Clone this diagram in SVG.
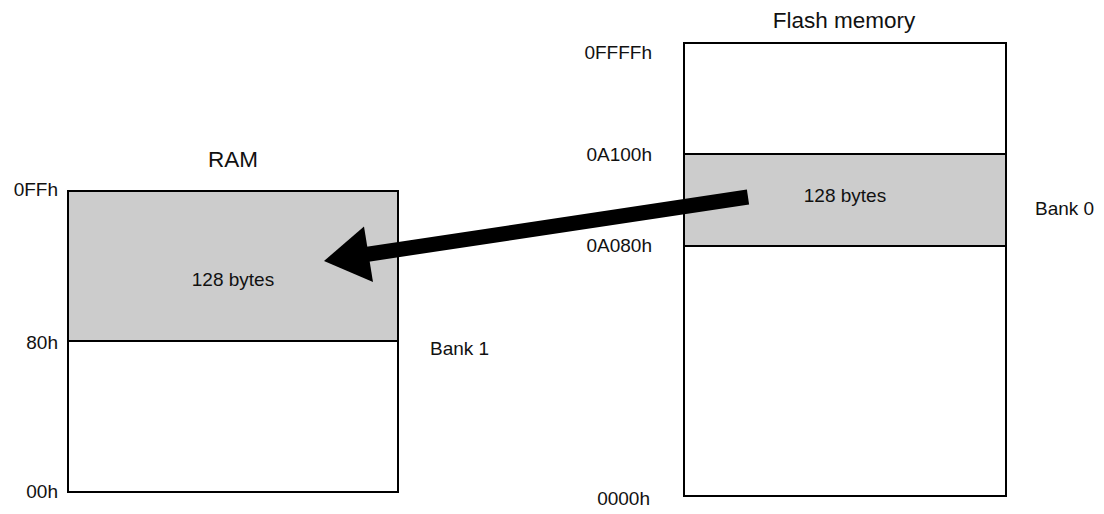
<svg xmlns="http://www.w3.org/2000/svg" width="1104" height="514" viewBox="0 0 1104 514">
<style>
text{font-family:"Liberation Sans",Arial,sans-serif;fill:#111}
.t{font-size:22.5px}
.l{font-size:19px}
.box{fill:#fff;stroke:#000;stroke-width:2}
.sh{fill:#cccccc;stroke:#000;stroke-width:2}
</style>
<rect width="1104" height="514" fill="#fff"/>
<g id="ram">
<rect class="box" x="68" y="191" width="330" height="301"/>
<rect class="sh" x="68" y="191" width="330" height="150"/>
<text class="t" x="233" y="167" text-anchor="middle">RAM</text>
<text class="l" x="233" y="286" text-anchor="middle">128 bytes</text>
<text class="l" x="58" y="196" text-anchor="end">0FFh</text>
<text class="l" x="58" y="349" text-anchor="end">80h</text>
<text class="l" x="58" y="498" text-anchor="end">00h</text>
<text class="l" x="430" y="355">Bank 1</text>
</g>
<g id="flash">
<rect class="box" x="684" y="43" width="322" height="453"/>
<rect class="sh" x="684" y="154" width="322" height="92"/>
<text class="t" x="844" y="28" text-anchor="middle">Flash memory</text>
<text class="l" x="845" y="202" text-anchor="middle">128 bytes</text>
<text class="l" x="652" y="59" text-anchor="end">0FFFFh</text>
<text class="l" x="652" y="161" text-anchor="end">0A100h</text>
<text class="l" x="652" y="252" text-anchor="end">0A080h</text>
<text class="l" x="650" y="505" text-anchor="end">0000h</text>
<text class="l" x="1035" y="215">Bank 0</text>
</g>
<g id="connectors">
<line x1="748" y1="197" x2="366" y2="254.5" stroke="#000" stroke-width="15"/>
<polygon points="324,261 364,226.5 373,282" fill="#000"/>
</g>
</svg>
